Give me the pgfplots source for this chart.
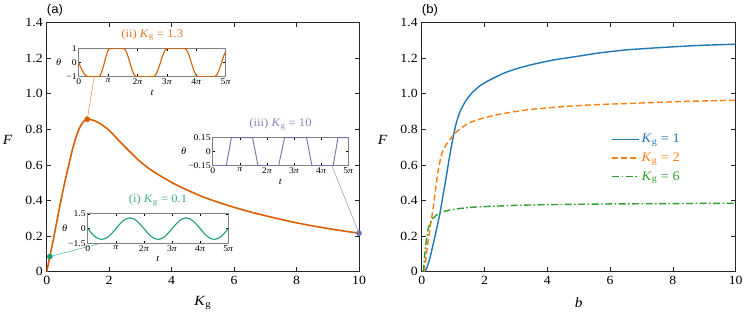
\documentclass[border=0pt]{standalone}
\usepackage{fontspec}
\setmainfont{Liberation Serif}[FakeStretch=1.1]
\newfontfamily\sansf{Liberation Sans}[FakeStretch=1.05]
\usepackage{pgfplots}
\pgfplotsset{compat=1.18}
\definecolor{dorange}{HTML}{D95F02}
\definecolor{dgreen}{HTML}{1B9E77}
\definecolor{dpurple}{HTML}{7570B3}
\definecolor{tblue}{HTML}{1F77B4}
\definecolor{torange}{HTML}{FF7F0E}
\definecolor{tgreen}{HTML}{2CA02C}
\newcommand{\Kg}{\textit{K}\textsubscript{g}}
\newcommand{\pii}{\textit{π}}

\pgfplotsset{
  mainax/.style={
    scale only axis, width=312.3pt, height=249pt,
    xmin=0, xmax=10, ymin=0, ymax=1.4,
    xtick={0,2,4,6,8,10}, xticklabels={0,2,4,6,8,10},
    ytick={0,0.2,0.4,0.6,0.8,1.0,1.2,1.4},
    yticklabels={0,0.2,0.4,0.6,0.8,1.0,1.2,1.4},
    tick align=inside, major tick length=4.5pt,
    axis line style={line width=0.8pt, black!85},
    tick style={line width=0.8pt, black!85},
    ticklabel style={font=\fontsize{12.5}{14}\selectfont},
    xticklabel style={yshift=-1pt},
    yticklabel style={xshift=-0.5pt},
    label style={font=\fontsize{14}{16}\selectfont},
    xlabel style={at={(axis description cs:0.5,0)}, anchor=center, yshift=-31pt},
    ylabel style={at={(axis description cs:0,0.53)}, anchor=center, rotate=-90, xshift=-39pt},
  },
  inset/.style={
    scale only axis, axis background/.style={fill=white},
    xmin=0, xmax=5,
    xtick={0,1,2,3,4,5}, xticklabels={0,\pii,2\pii,3\pii,4\pii,5\pii},
    tick align=inside, major tick length=2.5pt,
    axis line style={line width=1pt, black!50},
    tick style={line width=0.6pt, black},
    ticklabel style={font=\fontsize{8.8}{10}\selectfont},
    xticklabel style={yshift=1.5pt},
    yticklabel style={xshift=1.5pt},
    label style={font=\fontsize{9.5}{11}\selectfont},
    xlabel={\textit{t}},
    ylabel={\textit{θ}},
    xlabel style={at={(axis description cs:0.5,0)}, anchor=center, yshift=-16pt},
    title style={at={(axis description cs:0.5,1)}, anchor=center, yshift=7.5pt, font=\fontsize{11.5}{13}\selectfont},
  },
}

\begin{document}
\begin{tikzpicture}[x=1pt,y=1pt]
\useasboundingbox (0,0) rectangle (747,316);

\node[anchor=west, font=\sansf\fontsize{12.5}{14}\selectfont, inner sep=0pt] at (46.7,305.5) {(a)};
\node[anchor=west, font=\sansf\fontsize{12.5}{14}\selectfont, inner sep=0pt] at (421.7,305.5) {(b)};

% ---------- panel (a) ----------
\begin{axis}[mainax, at={(46.7pt,44.3pt)}, anchor=south west,
  xlabel={\Kg}, ylabel={\textit{F}}]
\addplot[dorange, line width=1.6pt, smooth, tension=0.4] coordinates {
(0,0) (0.1,0.085) (0.2,0.17) (0.3,0.26) (0.45,0.395) (0.6,0.52) (0.7,0.595)
(0.8,0.67) (0.9,0.735) (1.0,0.787) (1.1,0.825) (1.2,0.848) (1.3,0.857)
(1.4,0.856) (1.5,0.851) (1.7,0.834) (2.0,0.795) (2.35,0.73) (2.7,0.668)
(3.0,0.618) (3.3,0.577) (3.6,0.543) (4.0,0.502) (4.4,0.467) (5.0,0.421)
(5.5,0.39) (6.0,0.362) (6.5,0.337) (7.0,0.315) (7.5,0.294) (8.0,0.275)
(8.5,0.258) (9.0,0.243) (9.5,0.229) (10,0.217)};
\draw[dorange!80, line width=0.5pt] (axis cs:1.3,0.857) -- (axis cs:1.52,1.096);
\draw[dgreen!80, line width=0.5pt] (axis cs:0.1,0.085) -- (axis cs:1.71,0.159);
\draw[dpurple!80, line width=0.5pt] (axis cs:10,0.217) -- (axis cs:9.13,0.596);
\addplot[only marks, mark=*, mark size=2.6pt, dorange] coordinates {(1.3,0.857)};
\addplot[only marks, mark=*, mark size=2.6pt, dgreen] coordinates {(0.1,0.085)};
\addplot[only marks, mark=*, mark size=2.6pt, dpurple] coordinates {(10,0.217)};
\end{axis}

% inset (ii)
\begin{axis}[inset, at={(78.7pt,239.3pt)}, anchor=south west,
  width=147pt, height=28.4pt, ymin=-1, ymax=1,
  ytick={-1,0,1}, yticklabels={−1,0,1},
  ylabel style={at={(axis description cs:0,0.5)}, anchor=center, rotate=-90, xshift=-20pt},
  title={(ii) \Kg\ =\ 1.3}, title style={text=dorange!85}]
\addplot[dorange, line width=1.1pt, smooth, tension=0.3] coordinates {
(0,0) (0.08,-0.383) (0.16,-0.707) (0.24,-0.924) (0.32,-1) (0.68,-1)
(0.745,-0.866) (0.81,-0.5) (0.875,0) (0.94,0.5) (1.005,0.866) (1.07,1) (1.52,1)
(1.593,0.866) (1.667,0.5) (1.74,0) (1.813,-0.5) (1.887,-0.866) (1.96,-1) (2.54,-1)
(2.62,-0.866) (2.70,-0.5) (2.78,0) (2.86,0.5) (2.94,0.866) (3.02,1) (3.60,1)
(3.677,0.866) (3.753,0.5) (3.83,0) (3.907,-0.5) (3.983,-0.866) (4.06,-1) (4.62,-1)
(4.70,-0.866) (4.78,-0.5) (4.86,0) (4.94,0.5) (5.0,0.76)};
\end{axis}

% inset (iii)
\begin{axis}[inset, at={(212.7pt,150.3pt)}, anchor=south west,
  width=135.6pt, height=28pt, ymin=-0.15, ymax=0.15,
  ytick={-0.15,0,0.15}, yticklabels={−0.15,0,0.15},
  ylabel style={at={(axis description cs:0,0.5)}, anchor=center, rotate=-90, xshift=-29pt},
  title={(iii) \Kg\ =\ 10}, title style={text=dpurple!85}]
\addplot[dpurple, line width=0.9pt] coordinates {
(0,-0.15) (0.5,-0.15) (0.69,0.15) (1.47,0.15) (1.67,-0.15) (2.43,-0.15)
(2.65,0.15) (3.46,0.15) (3.66,-0.15) (4.44,-0.15) (4.62,0.15) (5,0.15)};
\end{axis}

% inset (i)
\begin{axis}[inset, at={(87.7pt,72.7pt)}, anchor=south west,
  width=140.6pt, height=29.3pt, ymin=-1.5, ymax=1.5,
  ytick={-1.5,0,1.5}, yticklabels={−1.5,0,1.5},
  ylabel style={at={(axis description cs:0,0.5)}, anchor=center, rotate=-90, xshift=-23pt},
  title={(i) \Kg\ =\ 0.1}, title style={text=dgreen!85}]
\addplot[dgreen, line width=1.1pt, smooth] coordinates {
(0,0) (0.125,-0.421) (0.25,-0.778) (0.375,-1.016) (0.5,-1.1) (0.625,-1.016)
(0.75,-0.778) (0.875,-0.421) (1,0) (1.125,0.421) (1.25,0.778) (1.375,1.016)
(1.5,1.1) (1.625,1.016) (1.75,0.778) (1.875,0.421) (2,0)
(2.125,-0.421) (2.25,-0.778) (2.375,-1.016) (2.5,-1.1) (2.625,-1.016)
(2.75,-0.778) (2.875,-0.421) (3,0) (3.125,0.421) (3.25,0.778) (3.375,1.016)
(3.5,1.1) (3.625,1.016) (3.75,0.778) (3.875,0.421) (4,0)
(4.125,-0.421) (4.25,-0.778) (4.375,-1.016) (4.5,-1.1) (4.625,-1.016)
(4.75,-0.778) (4.875,-0.421) (5,0)};
\end{axis}

% ---------- panel (b) ----------
\begin{axis}[mainax, width=314pt, at={(421.7pt,44.3pt)}, anchor=south west,
  xlabel={\textit{b}}, ylabel={\textit{F}},
  legend style={draw=none, fill=none, at={(axis description cs:0.6,0.565)}, anchor=north west,
    font=\fontsize{13}{15}\selectfont, row sep=4.5pt, inner sep=1pt},
  legend cell align=left,
  legend image code/.code={\draw[#1] (0pt,0pt) -- (27pt,0pt);}]
\addplot[tblue, line width=1.4pt, smooth, tension=0.4] coordinates {
(0.08,0) (0.15,0.015) (0.22,0.05) (0.32,0.12) (0.45,0.22) (0.58,0.328)
(0.7,0.45) (0.8,0.553) (0.9,0.66) (1.0,0.755) (1.1,0.835) (1.22,0.9)
(1.4,0.96) (1.59,1.003) (1.85,1.045) (2.17,1.078) (2.6,1.115) (3.0,1.14)
(3.45,1.162) (4.19,1.19) (5.0,1.212) (5.57,1.228) (6.5,1.247) (7.69,1.261)
(8.8,1.272) (10,1.279)};
\addlegendentry{\textcolor{tblue}{\Kg\ =\ 1}}
\addplot[torange, line width=1.4pt, dash pattern=on 6pt off 3pt, smooth, tension=0.4] coordinates {
(0.07,0) (0.12,0.05) (0.21,0.178) (0.37,0.365) (0.51,0.553) (0.64,0.665)
(0.75,0.705) (0.85,0.731) (1.01,0.768) (1.2,0.8) (1.48,0.834) (1.8,0.855)
(2.12,0.871) (2.5,0.886) (2.97,0.9) (3.45,0.912) (4.2,0.924) (5.0,0.934)
(5.8,0.941) (6.63,0.946) (7.5,0.952) (8.5,0.958) (10,0.964)};
\addlegendentry{\textcolor{torange}{\Kg\ =\ 2}}
\addplot[tgreen, line width=1.4pt, dash pattern=on 7pt off 2.5pt on 1.5pt off 2.5pt, smooth, tension=0.4] coordinates {
(0.05,0) (0.1,0.1) (0.15,0.18) (0.2,0.235) (0.26,0.272) (0.35,0.298)
(0.5,0.322) (0.7,0.338) (1.0,0.35) (1.5,0.361) (2.0,0.366) (3.0,0.373)
(4.0,0.377) (5.0,0.379) (6.0,0.381) (7.0,0.382) (8.0,0.383) (9.0,0.384) (10,0.385)};
\addlegendentry{\textcolor{tgreen}{\Kg\ =\ 6}}
\end{axis}
\end{tikzpicture}
\end{document}
